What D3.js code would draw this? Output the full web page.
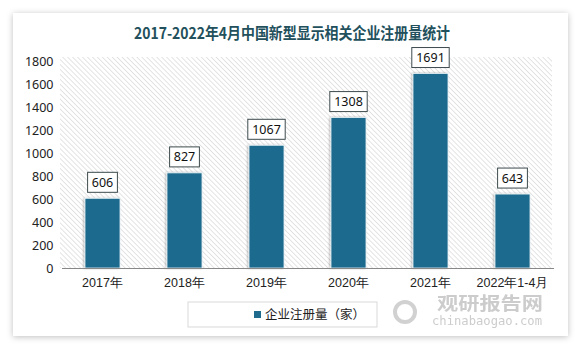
<!DOCTYPE html>
<html><head><meta charset="utf-8">
<script src="https://cdn.jsdelivr.net/npm/d3@7/dist/d3.min.js"></script>
<style>
html,body{margin:0;padding:0;background:#fff;}
svg{display:block;font-family:"Noto Sans CJK SC","Noto Sans",sans-serif;}
</style></head>
<body><svg id="c" width="583" height="349"></svg>
<script>
const categories = ["2017年","2018年","2019年","2020年","2021年","2022年1-4月"];
const values = [606, 827, 1067, 1308, 1691, 643];
const yTicks = [0,200,400,600,800,1000,1200,1400,1600,1800];
const title = "2017-2022年4月中国新型显示相关企业注册量统计";
const seriesName = "企业注册量（家）";

(function(){
const svg = d3.select("#c");
const defs = svg.append("defs");
const sh = defs.append("filter").attr("id","cardShadow").attr("x","-5%").attr("y","-5%").attr("width","110%").attr("height","115%");
sh.append("feDropShadow").attr("dx",0).attr("dy",1).attr("stdDeviation",3).attr("flood-color","#000").attr("flood-opacity",0.25);
const bs = defs.append("filter").attr("id","barShadow").attr("x","-30%").attr("y","-10%").attr("width","160%").attr("height","120%");
bs.append("feDropShadow").attr("dx",-1).attr("dy",0).attr("stdDeviation",1.2).attr("flood-color","#000").attr("flood-opacity",0.3);
const pat = defs.append("pattern").attr("id","hatch").attr("patternUnits","userSpaceOnUse")
  .attr("width",3.5).attr("height",3.5).attr("patternTransform","rotate(-45)");
pat.append("line").attr("x1",0).attr("y1",0).attr("x2",0).attr("y2",3.5).attr("stroke","#cdcdcd").attr("stroke-width",1.1);

// card
svg.append("rect").attr("x",13).attr("y",13).attr("width",555).attr("height",323)
  .attr("fill","#fff").attr("filter","url(#cardShadow)");

// title
svg.append("text").attr("x",292).attr("y",39).attr("text-anchor","middle")
  .attr("font-size",15.5).attr("font-weight","bold").attr("fill","#22505c")
  .attr("font-family","'Noto Sans CJK SC','Liberation Serif',serif")
  .attr("textLength",316).attr("lengthAdjust","spacingAndGlyphs")
  .text(title);

const pLeft = 61.5, pRight = 553.5, pTop = 61, pBottom = 268;
const x = d3.scaleBand().domain(categories).range([pLeft,pRight]).padding(0);
const y = d3.scaleLinear().domain([0,1800]).range([pBottom,pTop]);

// hatched plot area
svg.append("rect").attr("x",60).attr("y",57).attr("width",492).attr("height",pBottom-57).attr("fill","url(#hatch)");

// y axis
const yAxis = svg.append("g").attr("transform",`translate(${pLeft},0)`)
  .call(d3.axisLeft(y).tickValues(yTicks).tickFormat(d3.format("d")).tickSize(0).tickPadding(8));
yAxis.select(".domain").remove();
yAxis.selectAll("text").attr("font-size",12.5).attr("fill","#222").attr("font-family","'Noto Sans','Open Sans',sans-serif");

// bars
const bw = 35;
svg.append("g").selectAll("rect").data(values).join("rect")
  .attr("x",(d,i)=>x(categories[i])+x.bandwidth()/2-bw/2)
  .attr("y",d=>y(d)).attr("width",bw).attr("height",d=>pBottom-y(d))
  .attr("fill","#1f6b8d").attr("stroke","#e6f3f7").attr("stroke-width",0.8)
  .attr("filter","url(#barShadow)");

// x axis
const xAxis = svg.append("g").attr("transform",`translate(0,${pBottom})`)
  .call(d3.axisBottom(x).tickSize(0).tickPadding(10));
xAxis.select(".domain").attr("stroke","#888").attr("stroke-width",1);
xAxis.selectAll("text").attr("font-size",12.5).attr("fill","#222");

// value labels
const lab = svg.append("g").selectAll("g").data(values).join("g")
  .attr("transform",(d,i)=>`translate(${x(categories[i])+x.bandwidth()/2},${y(d)-16})`);
lab.append("rect").attr("x",d=>-(String(d).length*7.6+7)/2).attr("y",-10)
  .attr("width",d=>String(d).length*7.6+7).attr("height",20)
  .attr("fill","#fff").attr("stroke","#3d4a4d").attr("stroke-width",1);
lab.append("text").attr("text-anchor","middle").attr("dy","0.36em")
  .attr("font-size",12.5).attr("fill","#111").attr("font-family","'Noto Sans','Open Sans',sans-serif")
  .text(d=>d);

// legend
const lg = svg.append("g");
lg.append("rect").attr("x",188).attr("y",302).attr("width",189).attr("height",25)
  .attr("fill","#fff").attr("stroke","#d9d9d9");
lg.append("rect").attr("x",254).attr("y",311).attr("width",7).attr("height",7).attr("fill","#1f6b8d");
lg.append("text").attr("x",265).attr("y",315).attr("dy","0.35em").attr("font-size",12.5).attr("fill","#222").text(seriesName);

// watermark
const wm = svg.append("g").attr("opacity",0.85);
wm.append("circle").attr("cx",405).attr("cy",312).attr("r",10).attr("fill","none").attr("stroke","#c9c9c9").attr("stroke-width",4);
wm.append("text").attr("x",437).attr("y",310).attr("font-size",18).attr("font-weight","bold").attr("fill","#c4c4c4")
  .attr("textLength",106).attr("lengthAdjust","spacingAndGlyphs").text("观研报告网");
wm.append("text").attr("x",432).attr("y",325).attr("font-size",12).attr("fill","#c4c4c4")
  .attr("font-family","'DejaVu Sans Mono',monospace").attr("textLength",110).attr("lengthAdjust","spacingAndGlyphs").text("chinabaogao.com");
})();
</script></body></html>
